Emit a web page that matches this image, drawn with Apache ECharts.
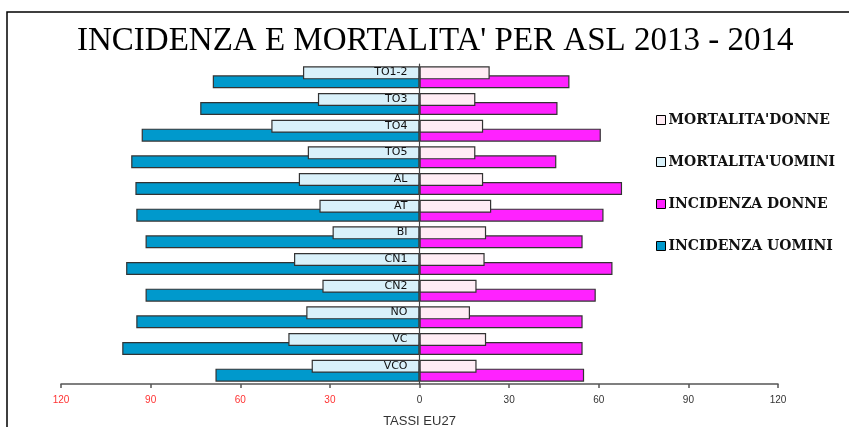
<!DOCTYPE html>
<html>
<head>
<meta charset="utf-8">
<script src="https://cdn.jsdelivr.net/npm/echarts@6/dist/echarts.min.js"></script>
<style>
  html, body { margin: 0; padding: 0; background: #fff; }
  #chart { width: 849px; height: 427px; }
</style>
</head>
<body>
<div id="chart"></div>
<script>
// dati (tassi EU27)
var asl = ['TO1-2', 'TO3', 'TO4', 'TO5', 'AL', 'AT', 'BI', 'CN1', 'CN2', 'NO', 'VC', 'VCO'];
var mortalitaDonne = [23.5, 18.7, 21.3, 18.7, 21.3, 24.0, 22.3, 21.8, 19.1, 16.9, 22.3, 19.1];
var mortalitaUomini = [39.0, 34.0, 49.6, 37.4, 40.4, 33.5, 29.1, 42.0, 32.5, 37.9, 43.9, 36.1];
var incidenzaDonne = [50.2, 46.2, 60.7, 45.8, 67.8, 61.6, 54.6, 64.6, 59.0, 54.6, 54.6, 55.1];
var incidenzaUomini = [69.2, 73.4, 93.0, 96.5, 95.1, 94.8, 91.7, 98.2, 91.7, 94.8, 99.5, 68.3];
var xTicks = [-120, -90, -60, -30, 0, 30, 60, 90, 120];

var chart = echarts.init(document.getElementById('chart'));

function neg(arr) {
    return arr.map(function (v) { return -v; });
}

var barStyle = function (color) {
    return { color: color, borderColor: '#333', borderWidth: 1.2 };
};

chart.setOption({
    animation: false,
    title: {
        text: "INCIDENZA E MORTALITA' PER ASL 2013 - 2014",
        left: 72,
        top: 20,
        textStyle: {
            fontFamily: 'Liberation Serif',
            fontSize: 33,
            fontWeight: 'normal',
            color: '#000'
        }
    },
    graphic: [{
        type: 'rect',
        shape: { x: 7, y: 12, width: 900, height: 500 },
        style: { fill: 'none', stroke: '#000', lineWidth: 1.5 },
        silent: true
    }],
    legend: {
        orient: 'vertical',
        left: 651,
        top: 108,
        itemWidth: 9,
        itemHeight: 9,
        itemGap: 28,
        icon: 'rect',
        itemStyle: { borderColor: '#000', borderWidth: 1 },
        textStyle: {
            fontFamily: 'DejaVu Serif',
            fontWeight: 'bold',
            fontSize: 14,
            color: '#111',
            padding: [0, 0, 0, -2]
        },
        data: ["MORTALITA'DONNE", "MORTALITA'UOMINI", 'INCIDENZA DONNE', 'INCIDENZA UOMINI']
    },
    grid: { left: 61, right: 71, top: 64, bottom: 43, outerBoundsMode: 'none' },
    xAxis: {
        type: 'value',
        min: xTicks[0],
        max: xTicks[xTicks.length - 1],
        interval: 30,
        name: 'TASSI EU27',
        nameLocation: 'middle',
        nameGap: 31,
        nameTextStyle: { fontFamily: 'Liberation Sans', fontSize: 13, color: '#333' },
        splitLine: { show: false },
        axisLine: { show: true, lineStyle: { color: '#555', width: 1.5 } },
        axisTick: { show: true, length: 4, lineStyle: { color: '#555', width: 1.5 } },
        axisLabel: {
            margin: 11,
            fontFamily: 'Liberation Sans',
            fontSize: 10,
            formatter: function (v) { return Math.abs(v); },
            color: function (v) { return v < 0 ? '#ff3333' : '#333'; }
        }
    },
    yAxis: {
        type: 'category',
        inverse: true,
        data: asl,
        z: 10,
        // asse delle categorie spostato sullo zero
        offset: -358.5,
        axisLine: { onZero: false, lineStyle: { color: '#444', width: 1.2 } },
        axisTick: { show: false },
        axisLabel: {
            margin: 12,
            fontFamily: 'DejaVu Sans',
            fontSize: 11,
            color: '#111',
            verticalAlign: 'bottom',
            lineHeight: 10
        }
    },
    series: [
        {
            name: "MORTALITA'DONNE",
            type: 'bar',
            stack: 'mort',
            z: 3,
            barWidth: 13,
            barGap: '-31%',
            itemStyle: barStyle('#ffecf4'),
            data: mortalitaDonne
        },
        {
            name: "MORTALITA'UOMINI",
            type: 'bar',
            stack: 'mort',
            z: 3,
            barWidth: 13,
            barGap: '-31%',
            itemStyle: barStyle('#d9f1fa'),
            data: neg(mortalitaUomini)
        },
        {
            name: 'INCIDENZA DONNE',
            type: 'bar',
            stack: 'inc',
            z: 2,
            barWidth: 13,
            barGap: '-31%',
            itemStyle: barStyle('#ff22ff'),
            data: incidenzaDonne
        },
        {
            name: 'INCIDENZA UOMINI',
            type: 'bar',
            stack: 'inc',
            z: 2,
            barWidth: 13,
            barGap: '-31%',
            itemStyle: barStyle('#0099cc'),
            data: neg(incidenzaUomini)
        }
    ]
});
</script>
</body>
</html>
